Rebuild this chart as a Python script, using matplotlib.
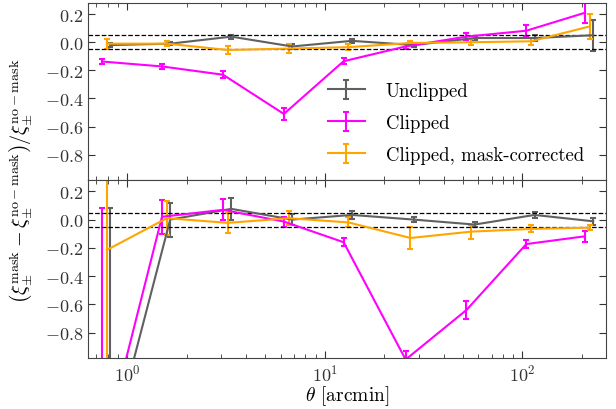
import numpy as np
import matplotlib
matplotlib.use("Agg")
import matplotlib.pyplot as plt

plt.rcParams["font.family"] = "serif"
plt.rcParams["font.serif"] = ["cmr10"]
plt.rcParams["mathtext.fontset"] = "cm"
plt.rcParams["axes.formatter.use_mathtext"] = True
plt.rcParams["font.size"] = 13

# Angular bins (arcmin)
theta = np.array([0.79, 1.59, 3.24, 6.58, 13.2, 27.2, 55.2, 111.0, 220.0])

# Top panel: ratio of correlation functions
top_unclipped = [-0.02, -0.01, 0.04, -0.03, 0.01, -0.02, 0.03, 0.03, 0.05]
top_unclipped_err = [0.015, 0.012, 0.015, 0.015, 0.015, 0.012, 0.015, 0.02, 0.11]
top_clipped = [-0.137, -0.172, -0.231, -0.51, -0.135, -0.03, 0.04, 0.082, 0.21]
top_clipped_err = [0.02, 0.02, 0.025, 0.04, 0.02, 0.015, 0.025, 0.04, 0.075]
top_corrected = [-0.01, -0.01, -0.055, -0.045, -0.035, -0.005, 0.0, 0.007, 0.113]
top_corrected_err = [0.035, 0.02, 0.025, 0.03, 0.02, 0.015, 0.02, 0.025, 0.09]

# Bottom panel
bot_unclipped = [-1.63, 0.0, 0.076, 0.0, 0.033, 0.0, -0.035, 0.033, -0.012]
bot_unclipped_err = [1.71, 0.12, 0.077, 0.04, 0.03, 0.02, 0.02, 0.02, 0.025]
bot_clipped = [-1.66, 0.02, 0.069, -0.014, -0.16, -0.99, -0.64, -0.173, -0.118]
bot_clipped_err = [1.74, 0.12, 0.075, 0.035, 0.03, 0.06, 0.065, 0.03, 0.04]
bot_corrected = [-0.215, 0.01, -0.023, 0.01, -0.02, -0.13, -0.085, -0.066, -0.057]
bot_corrected_err = [1.6, 0.12, 0.07, 0.05, 0.035, 0.075, 0.05, 0.025, 0.02]

labels = ["Unclipped", "Clipped", "Clipped, mask-corrected"]
colors = ["#606060", "#ff00ff", "#ffa500"]
shifts = [1.04, 0.945, 1.0]

fig = plt.figure(figsize=(6.16, 4.10), dpi=100)
ax1 = fig.add_axes([0.143, 0.5585, 0.841, 0.432])
ax2 = fig.add_axes([0.143, 0.124, 0.841, 0.4345])

top = [(top_unclipped, top_unclipped_err), (top_clipped, top_clipped_err),
       (top_corrected, top_corrected_err)]
bot = [(bot_unclipped, bot_unclipped_err), (bot_clipped, bot_clipped_err),
       (bot_corrected, bot_corrected_err)]

for ax, series in [(ax1, top), (ax2, bot)]:
    for (y, yerr), c, s, lab in zip(series, colors, shifts, labels):
        ax.errorbar(theta * s, y, yerr=yerr, color=c, lw=1.5, capsize=2,
                    capthick=1.5, elinewidth=1.5, label=lab)
    ax.axhline(0.05, color="k", ls="--", lw=0.9)
    ax.axhline(-0.05, color="k", ls="--", lw=0.9)
    ax.set_xscale("log")
    ax.set_xlim(0.635, 266)
    ax.set_ylim(-0.98, 0.28)
    ax.set_yticks([-0.8, -0.6, -0.4, -0.2, 0.0, 0.2])
    ax.set_yticklabels(["$-0.8$", "$-0.6$", "$-0.4$", "$-0.2$", "$0.0$", "$0.2$"])
    ax.tick_params(which="both", direction="in", top=True, right=True, colors="#333333")
    ax.tick_params(which="major", length=5, labelsize=13)
    ax.tick_params(which="minor", length=3)
    for sp in ax.spines.values():
        sp.set_color("#444444")

ax1.tick_params(axis="x", which="both", labelbottom=False)

ax1.legend(loc="upper left", bbox_to_anchor=(0.43, 0.65), frameon=False,
           fontsize=13.5, handlelength=2.0, labelspacing=0.75, handletextpad=1.1)

ax2.set_xlabel(r"$\theta$ [arcmin]", fontsize=14, labelpad=0)
fig.text(0.033, 0.56,
         r"$\left(\xi_{\pm}^{\rm mask}-\xi_{\pm}^{\rm no-mask}\right)/\xi_{\pm}^{\rm no-mask}$",
         rotation=90, ha="center", va="center", fontsize=14.5)

plt.savefig("out.png", dpi=100)
